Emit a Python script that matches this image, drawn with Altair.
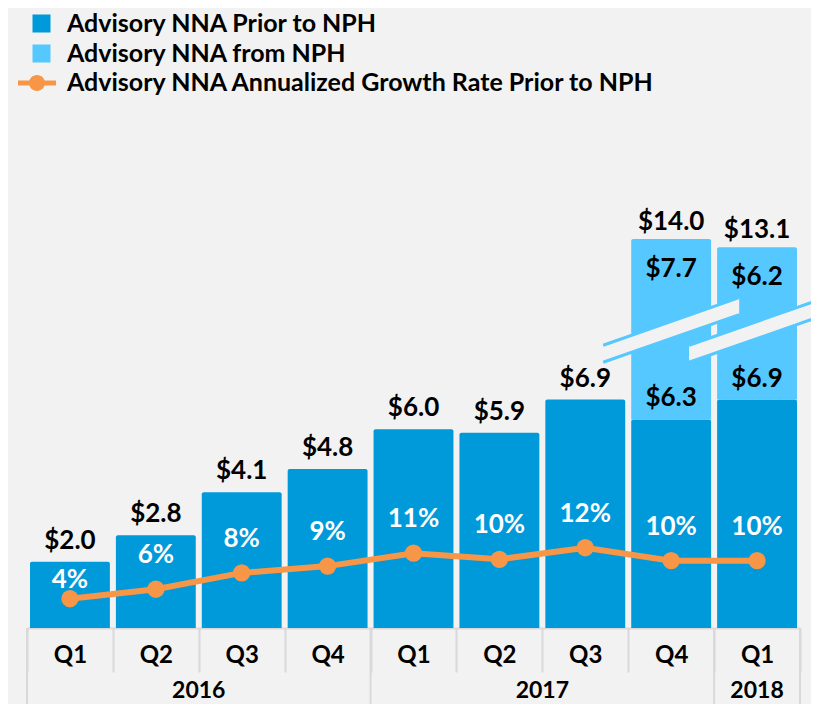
import altair as alt
import pandas as pd

# ---------------- data ----------------
years = ["2016", "2016", "2016", "2016", "2017", "2017", "2017", "2017", "2018"]
quarters = ["Q1", "Q2", "Q3", "Q4", "Q1", "Q2", "Q3", "Q4", "Q1"]
prior_nna = [2.0, 2.8, 4.1, 4.8, 6.0, 5.9, 6.9, 6.3, 6.9]          # $B, dark blue
nph_nna = [None, None, None, None, None, None, None, 7.7, 6.2]     # $B, light blue
total_nna = [2.0, 2.8, 4.1, 4.8, 6.0, 5.9, 6.9, 14.0, 13.1]
broken_top = [None, None, None, None, None, None, None, 11.75, 11.5]  # drawn height of broken bars
growth_rate = [4.3, 5.7, 8.1, 9.1, 11.0, 10.1, 11.8, 9.9, 9.9]    # %
break_level = 9.0
series_names = [
    "Advisory NNA Prior to NPH",
    "Advisory NNA from NPH",
    "Advisory NNA Annualized Growth Rate Prior to NPH",
]
year_labels = ["2016", "2017", "2018"]

DARK = "#0099DA"
LIGHT = "#55C8FF"
ORANGE = "#F79646"
BG = "#F2F2F2"
GRID = "#D9D9D9"
FONT = "Lato"

W, H = 773, 500
DOLLAR_MAX = 15.1
PCT_MAX = 73.5

keys = [f"{y}-{q}" for y, q in zip(years, quarters)]

# ---------------- tables ----------------
bar_rows = []
for k, p, n, t in zip(keys, prior_nna, nph_nna, broken_top):
    bar_rows.append({"key": k, "y0": 0.0, "y1": p, "series": series_names[0]})
    if n is not None:
        bar_rows.append({"key": k, "y0": p, "y1": t, "series": series_names[1]})
bars_df = pd.DataFrame(bar_rows)

prior_lab = pd.DataFrame({"key": keys, "y": prior_nna,
                          "text": [f"${v:.1f}" for v in prior_nna]})
nph_lab = pd.DataFrame([{"key": k, "y": t, "text": f"${n:.1f}"}
                        for k, n, t in zip(keys, nph_nna, broken_top) if n is not None])
tot_lab = pd.DataFrame([{"key": k, "y": t, "text": f"${v:.1f}"}
                        for k, v, t in zip(keys, total_nna, broken_top) if t is not None])
break_df = pd.DataFrame([{"key": k, "y": break_level}
                         for k, t in zip(keys, broken_top) if t is not None])

ratio = PCT_MAX / DOLLAR_MAX
line_df = pd.DataFrame({"key": keys, "rate": growth_rate, "prior": prior_nna,
                        "series": series_names[2],
                        "text": [f"{round(r)}%" for r in growth_rate]})

counts = [years.count(y) for y in year_labels]
starts, s = [], 0
for c in counts:
    starts.append(s)
    s += c
year_df = pd.DataFrame({"year": year_labels,
                        "center": [st + c / 2 for st, c in zip(starts, counts)]})
div_df = pd.DataFrame({"pos": starts + [s]})

# ---------------- encodings ----------------
xaxis = alt.Axis(title=None, labelExpr="split(datum.label, '-')[1]", labelAngle=0,
                 tickBand="extent", tickSize=44, tickColor=GRID, tickWidth=2,
                 domainColor=GRID, domainWidth=2, labelFont=FONT, labelFontSize=24,
                 labelFontWeight="bold", labelColor="black", labelBaseline="middle",
                 labelPadding=-17, grid=False)
xscale = alt.Scale(domain=keys, paddingInner=0, paddingOuter=0)
X = alt.X("key:N", scale=xscale, sort=keys, axis=xaxis)
Xn = alt.X("key:N", scale=xscale, sort=keys, axis=None)
ydol = alt.Scale(domain=[0, DOLLAR_MAX], nice=False, zero=True)
ypct = alt.Scale(domain=[0, PCT_MAX], nice=False, zero=True)

bars = alt.Chart(bars_df).mark_bar(width=alt.RelativeBandSize(0.93),
                                   cornerRadiusTopLeft=2, cornerRadiusTopRight=2).encode(
    x=X,
    y=alt.Y("y0:Q", scale=ydol, axis=None),
    y2="y1:Q",
    color=alt.Color("series:N",
                    scale=alt.Scale(domain=series_names[:2], range=[DARK, LIGHT]),
                    legend=alt.Legend(title=None, orient="none", legendX=2, legendY=-117,
                                      direction="vertical", symbolType="square",
                                      symbolSize=324, symbolStrokeWidth=0,
                                      labelFont=FONT, labelFontSize=25,
                                      labelFontWeight="bold", labelColor="black",
                                      labelOffset=13, rowPadding=4, padding=0,
                                      labelLimit=0)),
)

LINE_SYMBOL = ("M-1,-0.13 L1,-0.13 L1,0.13 L-1,0.13 Z "
               "M-0.42,0 A0.42,0.42 0 1,1 0.42,0 A0.42,0.42 0 1,1 -0.42,0 Z")

line = alt.Chart(line_df).mark_line(strokeWidth=6).encode(
    x=Xn,
    y=alt.Y("rate:Q", scale=ypct, axis=None),
    stroke=alt.Stroke("series:N",
                      scale=alt.Scale(domain=[series_names[2]], range=[ORANGE]),
                      legend=alt.Legend(title=None, orient="none", legendX=-9, legendY=-64,
                                        symbolType=LINE_SYMBOL, symbolSize=1444,
                                        symbolFillColor=ORANGE, symbolStrokeColor=ORANGE,
                                        symbolStrokeWidth=0,
                                        labelFont=FONT, labelFontSize=25,
                                        labelFontWeight="bold", labelColor="black",
                                        labelOffset=11, padding=0, labelLimit=0)),
)

dots = alt.Chart(line_df).mark_circle(size=300, opacity=1, color=ORANGE).encode(
    x=Xn, y=alt.Y("rate:Q", scale=ypct, axis=None))

pct_text = alt.Chart(line_df).transform_calculate(
    pos=f"min(datum.rate + 5, datum.prior * {ratio} - 2.65)"
).mark_text(font=FONT, fontSize=26, fontWeight="bold", color="white",
            baseline="middle").encode(
    x=Xn, y=alt.Y("pos:Q", scale=ypct, axis=None), text="text:N")

prior_text = alt.Chart(prior_lab).mark_text(font=FONT, fontSize=26, fontWeight="bold",
                                            color="black", baseline="alphabetic",
                                            dy=-13).encode(
    x=Xn, y=alt.Y("y:Q", scale=ydol, axis=None), text="text:N")

nph_text = alt.Chart(nph_lab).mark_text(font=FONT, fontSize=26, fontWeight="bold",
                                        color="black", baseline="alphabetic",
                                        dy=38).encode(
    x=Xn, y=alt.Y("y:Q", scale=ydol, axis=None), text="text:N")

tot_text = alt.Chart(tot_lab).mark_text(font=FONT, fontSize=26, fontWeight="bold",
                                        color="black", baseline="alphabetic",
                                        dy=-9).encode(
    x=Xn, y=alt.Y("y:Q", scale=ydol, axis=None), text="text:N")

BREAK_FILL = "M-1,0.225 L1,-0.475 L1,-0.225 L-1,0.475 Z"
BREAK_EDGE = "M-1,0.225 L1,-0.475 M-1,0.475 L1,-0.225"
break_fill = alt.Chart(break_df).mark_point(shape=BREAK_FILL, size=136 * 136, filled=True,
                                            color=BG, opacity=1, strokeWidth=0).encode(
    x=Xn, y=alt.Y("y:Q", scale=ydol, axis=None))
break_edge = alt.Chart(break_df).mark_point(shape=BREAK_EDGE, size=136 * 136, filled=False,
                                            color=LIGHT, opacity=1, strokeWidth=3).encode(
    x=Xn, y=alt.Y("y:Q", scale=ydol, axis=None))

xq = alt.Scale(domain=[0, len(keys)], nice=False, zero=False)
dividers = alt.Chart(div_df).mark_rule(color=GRID, strokeWidth=2).encode(
    x=alt.X("pos:Q", scale=xq, axis=None),
    y=alt.value(H), y2=alt.value(H + 76))
year_text = alt.Chart(year_df).mark_text(font=FONT, fontSize=23, fontWeight="bold",
                                         color="black", baseline="middle").encode(
    x=alt.X("center:Q", scale=xq, axis=None),
    y=alt.value(H + 63), text="year:N")

chart = alt.layer(
    bars, break_fill, break_edge, line, dots, pct_text, prior_text, nph_text, tot_text,
    dividers, year_text,
).resolve_scale(
    x="independent", y="independent"
).properties(
    width=W, height=H,
    autosize="none",
    padding={"left": 19, "top": 120, "right": 11, "bottom": 76},
    background=BG,
).configure_view(strokeWidth=0)

chart.save("out.html", embed_options={"renderer": "svg", "actions": False})
